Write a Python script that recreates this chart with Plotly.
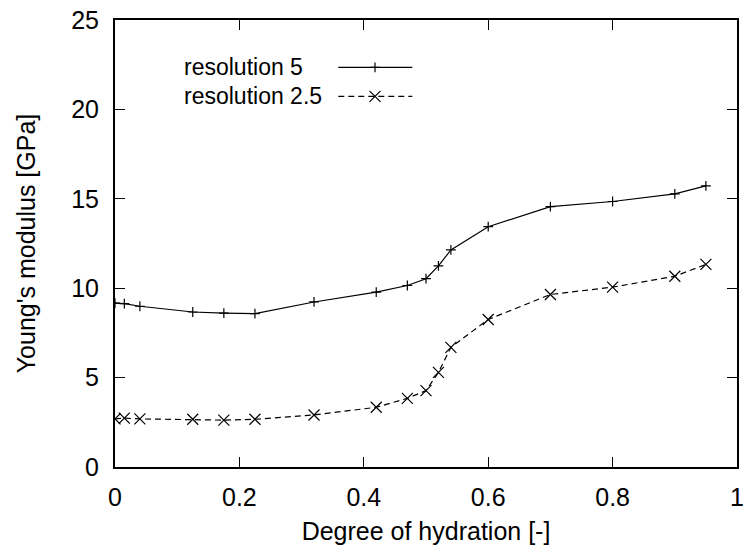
import plotly.graph_objects as go

# Data
hydration = [0, 0.015, 0.04, 0.125, 0.175, 0.225, 0.32, 0.42, 0.47, 0.5,
             0.52, 0.54, 0.6, 0.7, 0.8, 0.9, 0.95]
res5 = [9.17, 9.14, 8.99, 8.67, 8.61, 8.58, 9.23, 9.78, 10.15, 10.53,
        11.25, 12.14, 13.44, 14.56, 14.85, 15.28, 15.72]
res25 = [2.69, 2.73, 2.69, 2.67, 2.62, 2.67, 2.91, 3.34, 3.84, 4.27,
         5.29, 6.69, 8.25, 9.65, 10.06, 10.67, 11.33]
names = ["resolution 5", "resolution 2.5"]

FONT = "Liberation Sans, Arial, Helvetica, sans-serif"
FS = 25
KEY_FS = 23

fig = go.Figure()
fig.add_trace(go.Scatter(
    x=hydration, y=res5, mode="lines+markers", name=names[0],
    line=dict(color="black", width=1.2),
    marker=dict(symbol="cross-thin", size=7, line=dict(color="black", width=1.2)),
    showlegend=False))
fig.add_trace(go.Scatter(
    x=hydration, y=res25, mode="lines+markers", name=names[1],
    line=dict(color="black", width=1.2, dash="6px,4px"),
    marker=dict(symbol="x-thin", size=11, line=dict(color="black", width=1.2)),
    showlegend=False))

# gnuplot-style key: text first, then sample line with a marker (overlay axes 0..1)
key_rows = [0.894, 0.829]
key_x = [0.359, 0.418, 0.478]
fig.add_trace(go.Scatter(
    x=key_x, y=[key_rows[0]] * 3, xaxis="x2", yaxis="y2", mode="lines+markers",
    line=dict(color="black", width=1.2),
    marker=dict(symbol="cross-thin", size=7, line=dict(color="black", width=1.2),
                opacity=[0, 1, 0]),
    showlegend=False, hoverinfo="skip"))
fig.add_trace(go.Scatter(
    x=key_x, y=[key_rows[1]] * 3, xaxis="x2", yaxis="y2", mode="lines+markers",
    line=dict(color="black", width=1.2, dash="6px,4px"),
    marker=dict(symbol="x-thin", size=11, line=dict(color="black", width=1.2),
                opacity=[0, 1, 0]),
    showlegend=False, hoverinfo="skip"))
for name, yy in zip(names, key_rows):
    fig.add_annotation(x=0.107, y=yy, xref="x2", yref="y2", text=name,
                       showarrow=False, xanchor="left", yanchor="middle",
                       font=dict(family=FONT, size=KEY_FS, color="black"))

axis_common = dict(
    showgrid=False, zeroline=False, showline=True, linecolor="black",
    linewidth=2, mirror="ticks", ticks="inside", ticklen=10, tickwidth=1,
    tickcolor="black", tickfont=dict(family=FONT, size=FS, color="black"),
)
fig.update_layout(
    width=750, height=552,
    margin=dict(l=115, r=6, t=19, b=85),
    paper_bgcolor="white", plot_bgcolor="white",
    font=dict(family=FONT, size=FS, color="black"),
    xaxis=dict(range=[0, 1], dtick=0.2, tick0=0, ticklabelstandoff=7,
               title=dict(text="Degree of hydration [-]", standoff=12,
                          font=dict(family=FONT, size=FS)),
               **axis_common),
    yaxis=dict(range=[0, 25], dtick=5, tick0=0, ticklabelstandoff=9,
               title=dict(text="Young's modulus [GPa]", standoff=28,
                          font=dict(family=FONT, size=FS)),
               **axis_common),
    xaxis2=dict(overlaying="x", range=[0, 1], visible=False, anchor="y2"),
    yaxis2=dict(overlaying="y", range=[0, 1], visible=False, anchor="x2"),
)

fig.write_html("out.html")
